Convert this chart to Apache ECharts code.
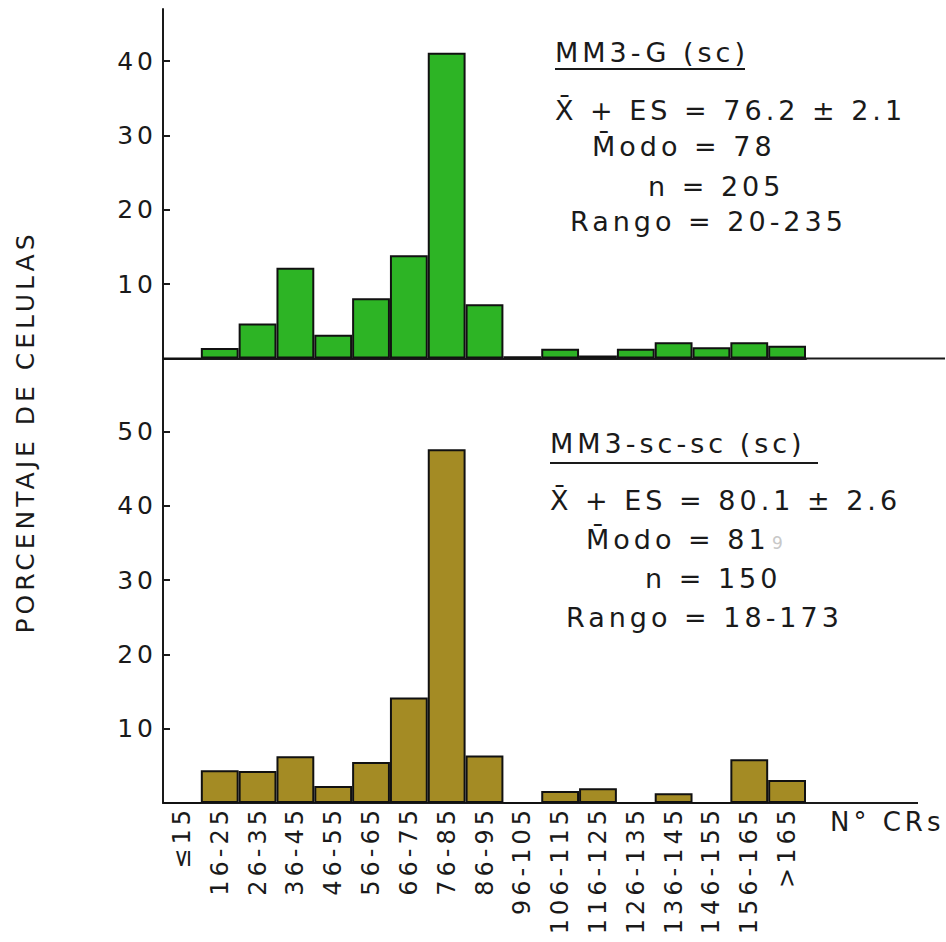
<!DOCTYPE html>
<html>
<head>
<meta charset="utf-8">
<script src="https://cdn.jsdelivr.net/npm/echarts@6/dist/echarts.min.js"></script>
<style>
  html, body { margin: 0; padding: 0; background: #fff; }
  #chart { width: 946px; height: 942px; }
  /* lettering-guide look: wide letter spacing on every text */
  #chart text { letter-spacing: 4px; }
</style>
</head>
<body>
<div id="chart"></div>
<script>
// intervalos de CRs
var categorias = ['≤15', '16-25', '26-35', '36-45', '46-55', '56-65', '66-75', '76-85', '86-95',
    '96-105', '106-115', '116-125', '126-135', '136-145', '146-155', '156-165', '>165'];

// MM3-G (sc), % de celulas
var valoresG = [0, 1.4, 4.7, 12.2, 3.2, 8.1, 13.9, 41.1, 7.3, 0.3, 1.3, 0.4, 1.3, 2.2, 1.5, 2.2, 1.7];

// MM3-sc-sc (sc), % de celulas
var valoresSc = [0, 4.4, 4.3, 6.3, 2.3, 5.5, 14.2, 47.6, 6.4, 0, 1.6, 2.0, 0, 1.3, 0, 5.9, 3.1];

var ticksG = [10, 20, 30, 40];
var ticksSc = [10, 20, 30, 40, 50];

var FONT = 'DejaVu Sans';
var INK = '#1a1a1a';

var myChart = echarts.init(document.getElementById('chart'), null, { renderer: 'svg' });

function ejeX(grid, conEtiquetas) {
    return {
        type: 'category',
        gridIndex: grid,
        data: categorias,
        boundaryGap: true,
        axisLine: { show: true, lineStyle: { color: INK, width: 2 } },
        axisTick: { show: false },
        axisLabel: {
            show: conEtiquetas,
            interval: 0,
            rotate: 90,
            margin: 3,
            color: INK,
            fontFamily: FONT,
            fontSize: 24
        },
        splitLine: { show: false }
    };
}

function ejeY(grid, max, ticks) {
    return {
        type: 'value',
        gridIndex: grid,
        min: 0,
        max: max,
        interval: 10,
        axisLine: { show: true, lineStyle: { color: INK, width: 2 } },
        axisTick: { show: true, inside: true, length: 7, customValues: ticks, lineStyle: { color: INK, width: 2 } },
        axisLabel: {
            customValues: ticks,
            margin: 6,
            color: INK,
            fontFamily: FONT,
            fontSize: 25,
            formatter: function (v) { return ticks.indexOf(v) >= 0 ? String(v) : ''; }
        },
        splitLine: { show: false }
    };
}

function texto(x, y, s, extra) {
    var t = { type: 'text', x: x, y: y, style: { text: s, fill: INK, font: '27px "' + FONT + '"', textVerticalAlign: 'middle' } };
    if (extra) { for (var k in extra) t.style[k] = extra[k]; }
    return t;
}

function linea(x1, y1, x2, y2) {
    return { type: 'line', shape: { x1: x1, y1: y1, x2: x2, y2: y2 }, style: { stroke: INK, lineWidth: 2 } };
}

var option = {
    backgroundColor: '#fff',
    animation: false,
    grid: [
        { left: 163, top: 9, width: 643, height: 349.5 },
        { left: 163, top: 357, width: 643, height: 446 }
    ],
    xAxis: [ejeX(0, false), ejeX(1, true)],
    yAxis: [ejeY(0, 47, ticksG), ejeY(1, 60, ticksSc)],
    series: [
        {
            name: 'MM3-G (sc)',
            type: 'bar',
            xAxisIndex: 0,
            yAxisIndex: 0,
            data: valoresG,
            barCategoryGap: '0%',
            itemStyle: { color: '#2db425', borderColor: '#111', borderWidth: 2 }
        },
        {
            name: 'MM3-sc-sc (sc)',
            type: 'bar',
            xAxisIndex: 1,
            yAxisIndex: 1,
            data: valoresSc,
            barCategoryGap: '0%',
            itemStyle: { color: '#a48b24', borderColor: '#111', borderWidth: 2 }
        }
    ],
    graphic: [
        // prolongacion de las lineas base
        linea(806, 358.5, 945, 358.5),
        linea(806, 803, 918, 803),
        // titulo del eje y
        {
            type: 'text', x: 25, y: 432, rotation: Math.PI / 2,
            style: { text: 'PORCENTAJE DE CELULAS', fill: INK, font: '25px "' + FONT + '"', textAlign: 'center', textVerticalAlign: 'middle' }
        },
        texto(830, 822, 'N° CRs', { font: '26px "' + FONT + '"' }),
        // recuadro superior
        texto(555, 52, 'MM3-G (sc)'),
        linea(555, 69, 745, 69),
        texto(555, 110, 'X̄ + ES = 76.2 ± 2.1'),
        texto(592, 146, 'M̄odo = 78'),
        texto(648, 186, 'n = 205'),
        texto(570, 221, 'Rango = 20-235'),
        // recuadro inferior
        texto(550, 443, 'MM3-sc-sc (sc)'),
        linea(550, 463, 818, 463),
        texto(550, 500, 'X̄ + ES = 80.1 ± 2.6'),
        texto(586, 539, 'M̄odo = 81'),
        texto(772, 543, '9', { fill: '#c8c8c8', font: '17px "' + FONT + '"' }),
        texto(645, 578, 'n = 150'),
        texto(566, 617, 'Rango = 18-173')
    ]
};

myChart.setOption(option);
</script>
</body>
</html>
